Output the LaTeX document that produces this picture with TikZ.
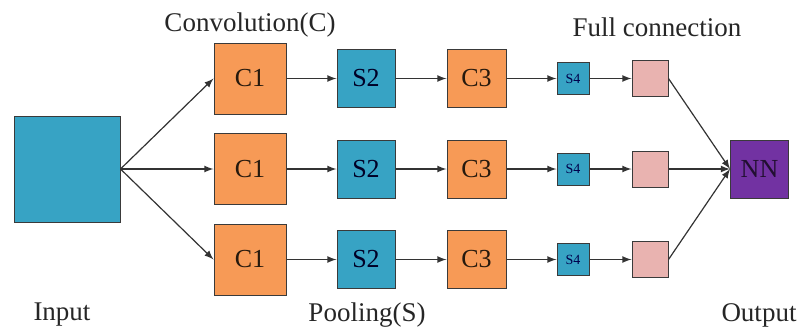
\documentclass[tikz,border=0pt]{standalone}
\usepackage{fontspec}
\setmainfont{Liberation Serif}
\usepackage{tikz}
\usetikzlibrary{arrows,positioning}

\definecolor{poolblue}{HTML}{37A3C4}
\definecolor{convorange}{HTML}{F79A56}
\definecolor{fcpink}{HTML}{E9B3B0}
\definecolor{nnpurple}{HTML}{7232A2}
\definecolor{boxedge}{HTML}{3A3A3A}
\definecolor{linkgray}{HTML}{333333}

\begin{document}
\begin{tikzpicture}[x=0.5pt,y=0.5pt]
\tikzset{
	layer box/.style = {draw=boxedge, line width=0.5pt, inner sep=0, font=\fontsize{13}{15}\selectfont},
	input box/.style = {layer box, fill=poolblue, minimum size=53pt},
	conv box/.style = {layer box, fill=convorange, text=black!80!brown, minimum width=36pt, minimum height=35.5pt},
	conv small/.style = {layer box, fill=convorange, text=black!80!brown, minimum width=29.5pt, minimum height=29pt},
	pool box/.style = {layer box, fill=poolblue, text=black!85!blue, minimum size=29pt},
	pool small/.style = {layer box, fill=poolblue, text=black!70!blue, minimum size=16pt, font=\fontsize{7}{8}\selectfont},
	fc box/.style = {layer box, fill=fcpink, minimum size=18pt},
	nn box/.style = {layer box, fill=nnpurple, text=black!70!nnpurple, minimum size=29pt},
	caption/.style = {font=\fontsize{13.5}{16}\selectfont, text=black!85},
	link/.style = {-latex, draw=linkgray, line width=0.6pt},
}
\useasboundingbox (0,0) rectangle (799,329);

\node (in)[input box] at (67,160) {};
\node (nn)[nn box] at (759.5,160) {NN};

\foreach \r/\y in {1/250.5,2/160,3/69.5}{
	\node (c1-\r)[conv box] at (250,\y) {C1};
	\node (s2-\r)[pool box] at (366,\y) {S2};
	\node (c3-\r)[conv small] at (476.5,\y) {C3};
	\node (s4-\r)[pool small] at (573,\y) {S4};
	\node (fc-\r)[fc box] at (650,\y) {};
	\draw [link] (in.east) -- (c1-\r.west);
	\draw [link] (c1-\r) -- (s2-\r);
	\draw [link] (s2-\r) -- (c3-\r);
	\draw [link] (c3-\r) -- (s4-\r);
	\draw [link] (s4-\r) -- (fc-\r);
	\draw [link] (fc-\r.east) -- (nn.west);
}

% labels
\node (conv label)[caption] at (250,304) {Convolution(C)};
\node (fc label)[caption] at (657,302) {Full connection};
\node (in label)[caption] at (62,14) {Input};
\node (pool label)[caption] at (367,14) {Pooling(S)};
\node (out label)[caption] at (759,14) {Output};

\end{tikzpicture}
\end{document}
